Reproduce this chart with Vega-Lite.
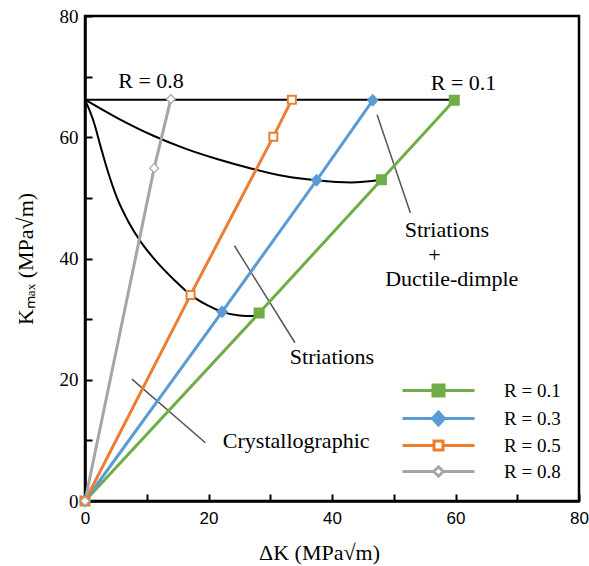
{
  "$schema": "https://vega.github.io/schema/vega-lite/v6.json",
  "width": 494,
  "height": 485,
  "autosize": {"type": "none"},
  "padding": {"left": 85, "top": 16, "right": 10, "bottom": 65},
  "background": "white",
  "config": {
    "view": {"stroke": "black", "strokeWidth": 2.5},
    "font": "Liberation Serif",
    "axis": {
      "grid": false,
      "domainColor": "black",
      "domainWidth": 2.5,
      "tickColor": "black",
      "tickWidth": 2,
      "tickSize": -7,
      "labelColor": "black",
      "labelFlush": false,
      "labelOverlap": false,
      "titleColor": "black",
      "titleFont": "Liberation Serif",
      "titleFontWeight": "normal",
      "titleFontSize": 22
    },
    "legend": {
      "orient": "bottom-right",
      "offset": 16,
      "padding": 2,
      "symbolSize": 100,
      "labelFont": "Liberation Serif",
      "labelFontSize": 19,
      "labelColor": "black",
      "labelOffset": 56,
      "rowPadding": 4,
      "symbolOpacity": 1
    }
  },
  "datasets": {
    "series": [
      {"R": "R = 0.1", "dk": 0, "kmax": 0},
      {"R": "R = 0.1", "dk": 28.2, "kmax": 31},
      {"R": "R = 0.1", "dk": 48.0, "kmax": 53},
      {"R": "R = 0.1", "dk": 59.8, "kmax": 66.1},
      {"R": "R = 0.3", "dk": 0, "kmax": 0},
      {"R": "R = 0.3", "dk": 22.2, "kmax": 31.2},
      {"R": "R = 0.3", "dk": 37.5, "kmax": 52.9},
      {"R": "R = 0.3", "dk": 46.6, "kmax": 66.1},
      {"R": "R = 0.5", "dk": 0, "kmax": 0},
      {"R": "R = 0.5", "dk": 17.1, "kmax": 34},
      {"R": "R = 0.5", "dk": 30.5, "kmax": 60.1},
      {"R": "R = 0.5", "dk": 33.5, "kmax": 66.2},
      {"R": "R = 0.8", "dk": 0, "kmax": 0},
      {"R": "R = 0.8", "dk": 11.2, "kmax": 54.9},
      {"R": "R = 0.8", "dk": 13.9, "kmax": 66.3}
    ],
    "curves": [
      {"c": "top", "dk": 0, "kmax": 66.2},
      {"c": "top", "dk": 59.8, "kmax": 66.2},
      {"c": "lower", "dk": 0, "kmax": 66.2},
      {"c": "lower", "dk": 1.46, "kmax": 62.4},
      {"c": "lower", "dk": 2.59, "kmax": 58.25},
      {"c": "lower", "dk": 3.72, "kmax": 54.3},
      {"c": "lower", "dk": 5.18, "kmax": 50.0},
      {"c": "lower", "dk": 6.96, "kmax": 46.2},
      {"c": "lower", "dk": 9.07, "kmax": 42.7},
      {"c": "lower", "dk": 11.66, "kmax": 39.4},
      {"c": "lower", "dk": 14.41, "kmax": 36.5},
      {"c": "lower", "dk": 17.1, "kmax": 34},
      {"c": "lower", "dk": 19.8, "kmax": 32.3},
      {"c": "lower", "dk": 22.2, "kmax": 31.2},
      {"c": "lower", "dk": 25.0, "kmax": 30.6},
      {"c": "lower", "dk": 27.1, "kmax": 30.5},
      {"c": "lower", "dk": 28.2, "kmax": 31},
      {"c": "upper", "dk": 0, "kmax": 66.2},
      {"c": "upper", "dk": 5.18, "kmax": 63.2},
      {"c": "upper", "dk": 11.17, "kmax": 60.2},
      {"c": "upper", "dk": 16.03, "kmax": 58.2},
      {"c": "upper", "dk": 21.38, "kmax": 56.4},
      {"c": "upper", "dk": 26.88, "kmax": 54.85},
      {"c": "upper", "dk": 32.23, "kmax": 53.6},
      {"c": "upper", "dk": 37.5, "kmax": 52.9},
      {"c": "upper", "dk": 43.07, "kmax": 52.54},
      {"c": "upper", "dk": 48.0, "kmax": 53}
    ],
    "pointers": [
      {"dk": 47.3, "kmax": 63.7, "dk2": 52.7, "kmax2": 47.5},
      {"dk": 24.2, "kmax": 42.1, "dk2": 34.0, "kmax2": 26.1},
      {"dk": 7.6, "kmax": 20.1, "dk2": 19.5, "kmax2": 9.6}
    ],
    "notes": [
      {"t": "R = 0.8", "dk": 10.7, "kmax": 69.2},
      {"t": "R = 0.1", "dk": 61.3, "kmax": 69.0},
      {"t": "Striations", "dk": 58.6, "kmax": 44.7},
      {"t": "+", "dk": 56.6, "kmax": 40.5},
      {"t": "Ductile-dimple", "dk": 59.4, "kmax": 36.6},
      {"t": "Striations", "dk": 40.0, "kmax": 23.8},
      {"t": "Crystallographic", "dk": 34.2, "kmax": 9.9}
    ]
  },
  "layer": [
    {
      "data": {"name": "curves"},
      "mark": {"type": "line", "color": "black", "strokeWidth": 2, "interpolate": "monotone"},
      "encoding": {
        "x": {
          "field": "dk", "type": "quantitative",
          "scale": {"domain": [0, 80], "nice": false},
          "axis": {
            "title": "ΔK (MPa√m)",
            "values": [0, 10, 20, 30, 40, 50, 60, 70, 80],
            "labelExpr": "datum.value % 20 == 0 ? datum.label : ''",
            "labelFont": "Liberation Sans",
            "labelFontSize": 17,
            "labelPadding": 16,
            "titlePadding": 16,
            "titleX": 234
          }
        },
        "y": {
          "field": "kmax", "type": "quantitative",
          "scale": {"domain": [0, 80], "nice": false},
          "axis": {
            "title": "Kₘₐₓ (MPa√m)",
            "values": [0, 10, 20, 30, 40, 50, 60, 70, 80],
            "labelExpr": "datum.value % 20 == 0 ? datum.label : ''",
            "labelFont": "Liberation Serif",
            "labelFontSize": 19,
            "labelPadding": 14,
            "titlePadding": 22
          }
        },
        "detail": {"field": "c", "type": "nominal"}
      }
    },
    {
      "data": {"name": "pointers"},
      "mark": {"type": "rule", "color": "#555555", "strokeWidth": 1.5},
      "encoding": {
        "x": {"field": "dk", "type": "quantitative"},
        "y": {"field": "kmax", "type": "quantitative"},
        "x2": {"field": "dk2"},
        "y2": {"field": "kmax2"}
      }
    },
    {
      "data": {"name": "series"},
      "mark": {"type": "line", "opacity": 1},
      "encoding": {
        "x": {"field": "dk", "type": "quantitative"},
        "y": {"field": "kmax", "type": "quantitative"},
        "stroke": {
          "field": "R", "type": "nominal",
          "scale": {"domain": ["R = 0.1", "R = 0.3", "R = 0.5", "R = 0.8"], "range": ["#70ad47", "#5b9bd5", "#ed7d31", "#a5a5a5"]},
          "legend": {"title": null}
        },
        "strokeWidth": {
          "field": "R", "type": "nominal",
          "scale": {"domain": ["R = 0.1", "R = 0.3", "R = 0.5", "R = 0.8"], "range": [3, 3, 2.5, 1.5]},
          "legend": null
        }
      }
    },
    {
      "data": {"name": "series"},
      "mark": {"type": "point", "filled": true, "opacity": 1, "strokeWidth": 0, "size": 100},
      "encoding": {
        "x": {"field": "dk", "type": "quantitative"},
        "y": {"field": "kmax", "type": "quantitative"},
        "fill": {
          "field": "R", "type": "nominal",
          "scale": {"domain": ["R = 0.1", "R = 0.3", "R = 0.5", "R = 0.8"], "range": ["#70ad47", "#5b9bd5", "white", "white"]},
          "legend": null
        },
        "shape": {
          "field": "R", "type": "nominal",
          "scale": {
            "domain": ["R = 0.1", "R = 0.3", "R = 0.5", "R = 0.8"],
            "range": [
              "M-7.2,0H7.2M-1.1,-1.1H1.1V1.1H-1.1Z",
              "M-7.2,0H7.2M0,-1.3L1.2,0L0,1.3L-1.2,0Z",
              "M-7.2,0H-0.9M0.9,0H7.2M-0.9,-0.9H0.9V0.9H-0.9Z",
              "M-7.2,0H-0.9M0.9,0H7.2M0,-0.95L0.95,0L0,0.95L-0.95,0Z"
            ]
          },
          "legend": null
        }
      }
    },
    {
      "data": {"name": "series"},
      "transform": [{"filter": "datum.R == 'R = 0.5'"}],
      "mark": {"type": "point", "shape": "square", "filled": false, "fill": "white", "stroke": "#ed7d31", "strokeWidth": 2, "size": 64, "opacity": 1},
      "encoding": {
        "x": {"field": "dk", "type": "quantitative"},
        "y": {"field": "kmax", "type": "quantitative"}
      }
    },
    {
      "data": {"name": "series"},
      "transform": [{"filter": "datum.R == 'R = 0.8'"}],
      "mark": {"type": "point", "shape": "diamond", "filled": false, "fill": "white", "stroke": "#a5a5a5", "strokeWidth": 1.2, "size": 80, "opacity": 1},
      "encoding": {
        "x": {"field": "dk", "type": "quantitative"},
        "y": {"field": "kmax", "type": "quantitative"}
      }
    },
    {
      "data": {"name": "notes"},
      "mark": {"type": "text", "font": "Liberation Serif", "fontSize": 22, "color": "black", "align": "center", "baseline": "middle"},
      "encoding": {
        "x": {"field": "dk", "type": "quantitative"},
        "y": {"field": "kmax", "type": "quantitative"},
        "text": {"field": "t"}
      }
    }
  ]
}
